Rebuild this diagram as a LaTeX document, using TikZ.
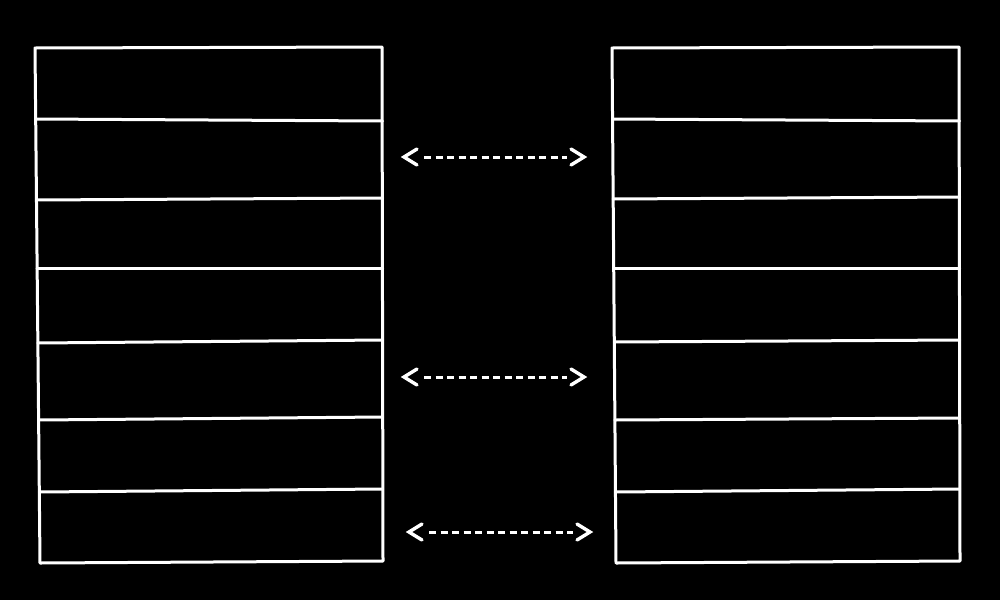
\documentclass[tikz,border=0pt]{standalone}
\usetikzlibrary{calc}
\begin{document}
\begin{tikzpicture}[x=1pt,y=-1pt,
  chalk/.style={draw=white,line width=3pt,line join=round,line cap=round},
  head/.style={draw=white,line width=3.4pt,line join=miter,line cap=round},
  link/.style={draw=white,line width=3pt,dash pattern=on 7pt off 4.5pt,shorten <=20pt,shorten >=17pt}]
\fill[black] (0,0) rectangle (1000,600);
\useasboundingbox (0,0) rectangle (1000,600);
% left table
\coordinate (LTL) at (35,48);
\coordinate (LTR) at (382,47);
\coordinate (LBR) at (383,561);
\coordinate (LBL) at (40,563);
\draw[chalk] (LTL) -- (LTR) -- (LBR) -- (LBL) -- cycle;
\foreach \i/\x/\a/\b in {1/35.7/119/121, 2/36.5/200/198, 3/37.2/268/268, 4/37.9/343/340, 5/38.6/420/417, 6/39.3/492/489}{
  \coordinate (Ll\i) at (\x,\a);
  \coordinate (Lr\i) at (382.5,\b);
  \draw[chalk] (Ll\i) -- (Lr\i);
}
% right table
\coordinate (RTL) at (612,48);
\coordinate (RTR) at (959,47);
\coordinate (RBR) at (960,561);
\coordinate (RBL) at (616,563);
\draw[chalk] (RTL) -- (RTR) -- (RBR) -- (RBL) -- cycle;
\foreach \i/\x/\a/\b in {1/612.6/119/121, 2/613.2/199/197, 3/613.7/268/268, 4/614.3/342/340, 5/614.9/420/418, 6/615.4/492/489}{
  \coordinate (Rl\i) at (\x,\a);
  \coordinate (Rr\i) at (959.5,\b);
  \draw[chalk] (Rl\i) -- (Rr\i);
}
% arrows
\coordinate (A1) at (404,157);
\coordinate (B1) at (584,157);
\coordinate (A2) at (404,377);
\coordinate (B2) at (584,377);
\coordinate (A3) at (409,532);
\coordinate (B3) at (590,532);
\foreach \a/\b in {A1/B1, A2/B2, A3/B3}{
  \draw[link] (\a) -- (\b);
  \draw[head] ($(\a)+(13,-8)$) -- (\a) -- ($(\a)+(13,8)$);
  \draw[head] ($(\b)+(-13,-8)$) -- (\b) -- ($(\b)+(-13,8)$);
}
\end{tikzpicture}
\end{document}
